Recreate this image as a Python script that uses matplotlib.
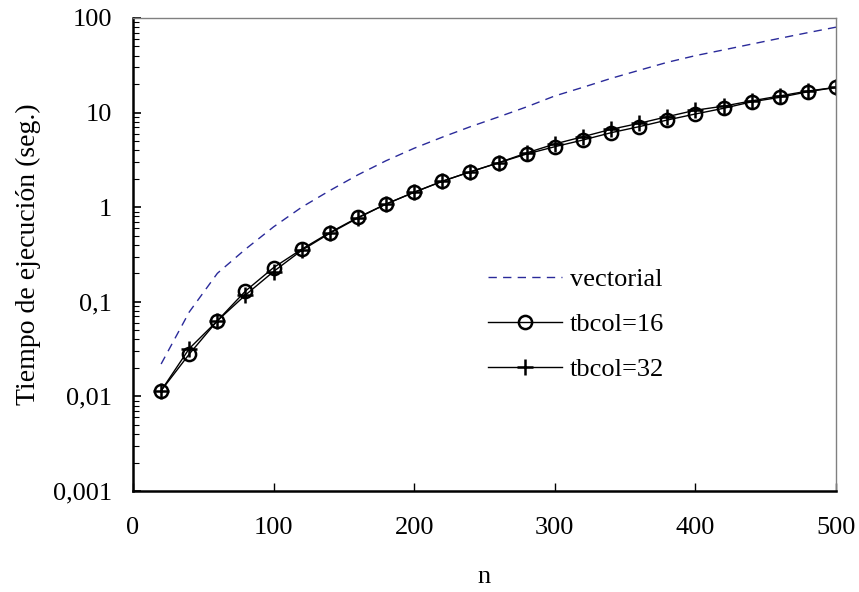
import matplotlib
matplotlib.use('Agg')
import matplotlib.pyplot as plt
from matplotlib.ticker import FixedLocator, FixedFormatter, LogLocator, NullFormatter

# problem size
n = [20, 40, 60, 80, 100, 120, 140, 160, 180, 200, 220, 240, 260,
     280, 300, 320, 340, 360, 380, 400, 420, 440, 460, 480, 500]

# execution times in seconds
vectorial = [0.022, 0.078, 0.20, 0.36, 0.62, 1.0, 1.5, 2.2, 3.1, 4.2, 5.5, 7.1, 9.0,
             11.5, 15.0, 18.5, 23.0, 28.0, 34.0, 40.0, 46.0, 53.0, 61.0, 70.0, 80.0]
tbcol16 = [0.0115, 0.028, 0.063, 0.13, 0.23, 0.36, 0.54, 0.78, 1.08, 1.44, 1.88, 2.37, 2.95,
           3.65, 4.36, 5.13, 6.13, 7.1, 8.35, 9.67, 11.1, 13.0, 14.5, 16.6, 18.5]
tbcol32 = [0.0115, 0.032, 0.063, 0.118, 0.209, 0.35, 0.53, 0.77, 1.08, 1.44, 1.88, 2.37, 2.95,
           3.75, 4.66, 5.56, 6.66, 7.7, 9.06, 10.6, 11.7, 13.3, 15.0, 16.9, 18.5]

y_ticks = [0.001, 0.01, 0.1, 1, 10, 100]
y_tick_labels = ['0,001', '0,01', '0,1', '1', '10', '100']
x_ticks = [0, 100, 200, 300, 400, 500]

plt.rcParams['font.family'] = ['Liberation Serif', 'DejaVu Serif']
plt.rcParams['font.size'] = 19

fig = plt.figure(figsize=(8.59, 5.92), dpi=100)
ax = fig.add_axes([133 / 859, 1 - 491 / 592, 703 / 859, 473 / 592])

ax.plot(n, vectorial, color='#2a2a9a', lw=1.0, dashes=(6, 4.5), label='vectorial')
ax.plot(n, tbcol16, color='black', lw=1.0, marker='o', ms=9.5, mfc='none',
        mec='black', mew=1.8, label='tbcol=16')
ax.plot(n, tbcol32, color='black', lw=1.0, marker='+', ms=11,
        mec='black', mew=1.8, label='tbcol=32')

ax.set_yscale('log')
ax.set_xlim(0, 500)
ax.set_ylim(0.001, 100)

ax.yaxis.set_major_locator(FixedLocator(y_ticks))
ax.yaxis.set_major_formatter(FixedFormatter(y_tick_labels))
ax.yaxis.set_minor_locator(LogLocator(base=10, subs=range(2, 10)))
ax.yaxis.set_minor_formatter(NullFormatter())
ax.set_xticks(x_ticks)

ax.tick_params(axis='y', which='major', direction='in', length=6, width=1.2, pad=15)
ax.tick_params(axis='y', which='minor', direction='in', length=4, width=0.8)
ax.tick_params(axis='x', which='major', direction='in', length=6, width=1.0, pad=19)
ax.tick_params(top=False, right=False)

for side in ['left', 'bottom']:
    ax.spines[side].set_linewidth(1.8)
    ax.spines[side].set_color('black')
for side in ['top', 'right']:
    ax.spines[side].set_linewidth(1.0)
    ax.spines[side].set_color('#808080')

ax.set_xlabel('n', labelpad=19)
ax.set_ylabel('Tiempo de ejecución (seg.)', fontsize=20, labelpad=9)

ax.legend(loc='upper left', bbox_to_anchor=(0.505, 0.473), frameon=False,
          borderpad=0, borderaxespad=0, handlelength=2.8, handletextpad=0.3,
          labelspacing=0.82)

fig.savefig('out.png', dpi=100)
